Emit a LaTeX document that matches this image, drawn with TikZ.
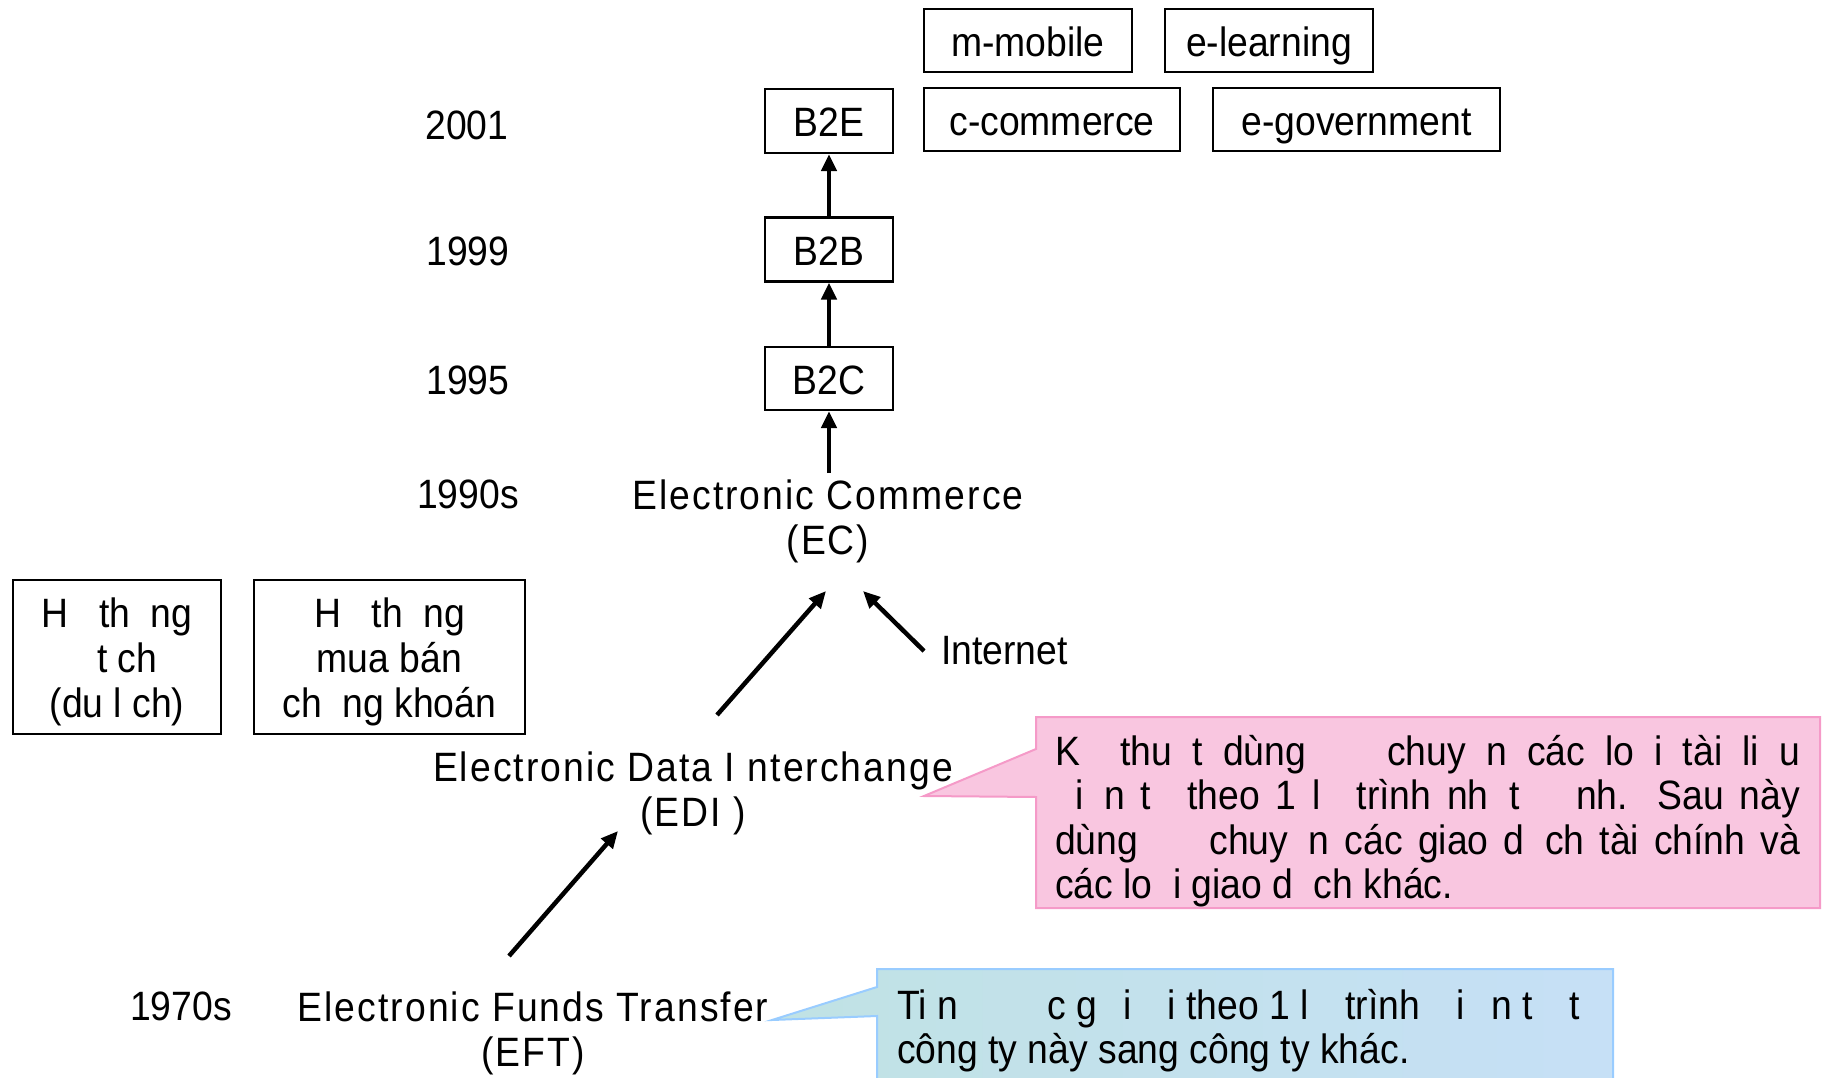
\documentclass[tikz,border=0pt]{standalone}
\usepackage{fontspec}
\setmainfont{Liberation Sans}[FakeStretch=0.91]
\newfontfamily\widefont{Liberation Sans}[FakeStretch=0.91,LetterSpace=5]
\newfontfamily\notefont{Liberation Sans}[FakeStretch=0.91]
\usetikzlibrary{arrows.meta}
\definecolor{pinkfill}{HTML}{F9C6E0}
\definecolor{pinkline}{HTML}{F59AC8}
\definecolor{blueleft}{HTML}{C0E2E4}
\definecolor{blueright}{HTML}{C6E0F6}
\definecolor{blueline}{HTML}{99CCFF}
\newcommand{\ms}{\hspace{0.5em}}
\newcommand{\mw}{\hspace{0.64em}}
\begin{document}
\begin{tikzpicture}[x=1pt,y=-1pt,
  every node/.style={font=\fontsize{41}{45}\selectfont, inner sep=0pt},
  box/.style={draw, line width=2.2pt, align=center},
  onebox/.style={box, text height=32pt, text depth=0pt},
  year/.style={},
  biglabel/.style={align=center, font=\fontsize{41}{45}\selectfont\widefont},
  arr/.style={line width=4.5pt, -{Triangle[length=17pt,width=15pt]}},
  note/.style={anchor=north west, align=left, font=\fontsize{41}{44.5}\selectfont\notefont}
]
\useasboundingbox (0,0) rectangle (1832,1078);

% callouts
\filldraw[fill=pinkfill, draw=pinkline, line width=2pt]
  (1036,717) -- (1820,717) -- (1820,908) -- (1036,908) -- (1036,797) -- (924,796) -- (1036,749) -- cycle;
\shade[left color=blueleft, right color=blueright]
  (877,969) -- (1613,969) -- (1613,1090) -- (877,1090) -- (877,1016) -- (772,1020) -- (877,987) -- cycle;
\draw[draw=blueline, line width=2pt]
  (877,969) -- (1613,969) -- (1613,1090) -- (877,1090) -- (877,1016) -- (772,1020) -- (877,987) -- cycle;

% top boxes
\node[onebox, minimum width=208pt, minimum height=63pt] (mmob) at (1028,40.5) {m-mobile};
\node[onebox, minimum width=208pt, minimum height=63pt] (elearn) at (1269,40.5) {e-learning};
\node[onebox, minimum width=256pt, minimum height=63pt] (ccom) at (1052,119.5) {c-commerce};
\node[onebox, minimum width=287pt, minimum height=63pt] (egov) at (1356.5,119.5) {e-government};

\node[onebox, minimum width=128pt, minimum height=64pt] (b2e) at (829,121) {B2E};
\node[onebox, minimum width=128pt, minimum height=64pt] (b2b) at (829,249.5) {B2B};
\node[onebox, minimum width=128pt, minimum height=63pt] (b2c) at (829,378.5) {B2C};

% years
\node[year] (y2001) at (467,125) {2001};
\node[year] (y1999) at (468,251) {1999};
\node[year] (y1995) at (468,380) {1995};
\node[year] (y1990) at (468,494) {1990s};
\node[year] (y1970) at (181,1006) {1970s};

% main labels
\node[biglabel] (ec) at (828,521) {Electronic Commerce\\(EC)};
\node[biglabel] (edi) at (693,793) {Electronic Data I nterchange\\(EDI )};
\node[biglabel] (eft) at (533,1033) {Electronic Funds Transfer\\(EFT)};
\node[anchor=west] (inet) at (941,651) {Internet};

% left boxes
\node[box, minimum width=208pt, minimum height=154pt] (dc) at (117,657) {};
\node[align=center] (dctxt) at (117,662)
  {H\ms\ th\ms ng\\\ms t ch\\(du l ch)};
\node[box, minimum width=271pt, minimum height=154pt] (ck) at (389.5,657) {};
\node[align=center] (cktxt) at (389.5,662)
  {H\ms\ th\ms ng\\mua bán\\ch\ms ng khoán};

% callout texts
\node[note] (pinktxt) at (1055,735) {%
\makebox[745pt][s]{K\ms\ thu\ms t dùng \ms\ms\ chuy\ms n các lo\ms i tài li\ms u}\\
\makebox[745pt][s]{\ms i\ms n t\ms\ theo 1 l\ms\ trình nh\ms t \ms\ms nh. Sau này}\\
\makebox[745pt][s]{dùng \ms\ms\ chuy\ms n các giao d\ms ch tài chính và}\\
các lo\ms i giao d\ms ch khác.};
\node[note] (bluetxt) at (897,989) {%
Ti n \mw\mw\mw c g\mw i \mw i theo 1 l\mw\ trình \mw i\mw n t\mw\ t\\
công ty này sang công ty khác.};

% connectors
\coordinate (ecfoot) at (829,473);
\coordinate (ediout) at (717,715);
\coordinate (ecinL) at (826,591);
\coordinate (inetout) at (924,651);
\coordinate (ecinR) at (863,591);
\coordinate (eftout) at (509,956);
\coordinate (ediin) at (618,831);

\draw[arr] (b2b.north) -- (b2e.south);
\draw[arr] (b2c.north) -- (b2b.south);
\draw[arr] (ecfoot) -- (b2c.south);
\draw[arr] (ediout) -- (ecinL);
\draw[arr] (inetout) -- (ecinR);
\draw[arr] (eftout) -- (ediin);
\end{tikzpicture}
\end{document}
